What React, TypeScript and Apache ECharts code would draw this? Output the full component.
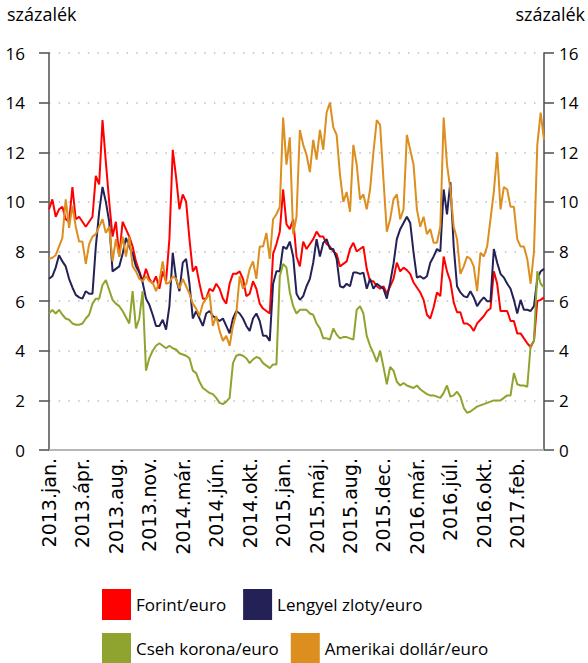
import React, { useEffect, useRef } from "react";
import * as echarts from "echarts";

const tickLabels = [
  "2013.jan.", "2013.ápr.", "2013.aug.", "2013.nov.", "2014.már.", "2014.jún.", "2014.okt.",
  "2015.jan.", "2015.máj.", "2015.aug.", "2015.dec.", "2016.már.", "2016.júl.", "2016.okt.", "2017.feb.",
];
const seriesNames = ["Forint/euro", "Lengyel zloty/euro", "Cseh korona/euro", "Amerikai dollár/euro"];
const seriesColors = ["#ff0000", "#232156", "#8ea42e", "#dc8e1f"];

const forintEuro = [
  9.7, 10.1, 9.4, 9.7, 9.8, 9.3, 9.2, 10.6, 9.3, 9.4, 9.2, 9.0, 9.2, 9.4, 11.05, 10.7, 13.3, 11.6, 10.0, 8.6, 9.2,
  7.8, 9.2, 8.9, 8.6, 8.2, 7.6, 7.2, 6.8, 7.3, 6.9, 6.7, 7.0, 6.5, 7.2, 6.8, 8.5, 12.1, 11.0, 9.7, 10.3,
  10.0, 8.5, 7.2, 7.4, 6.7, 6.1, 6.1, 6.5, 6.4, 6.7, 6.5, 6.1, 5.9, 6.7, 7.1, 7.1, 7.2, 6.9, 6.2, 6.3, 6.8,
  6.5, 5.9, 5.7, 5.6, 5.5, 7.9, 8.3, 8.8, 10.5, 9.1, 8.9, 9.3, 7.8, 7.4, 8.4, 8.1, 8.3, 8.5, 8.8, 8.6, 8.6,
  8.3, 8.2, 8.0, 7.9, 7.4, 7.5, 7.6, 8.1, 8.35, 8.0, 8.1, 8.2, 7.3, 6.8, 6.8, 6.6, 6.5, 6.6, 6.3, 6.6, 6.9,
  7.55, 7.2, 7.35, 7.25, 7.1, 6.75, 6.55, 6.35, 6.05, 5.45, 5.3, 5.75, 6.35, 6.2, 7.8, 7.2, 6.8, 5.95, 5.55, 5.55, 5.1,
  5.1, 5.0, 4.8, 5.1, 5.25, 5.4, 5.6, 5.7, 7.2, 6.7, 5.6, 5.6, 5.6, 5.2, 5.2, 4.7, 4.7, 4.5, 4.3, 4.15, 4.4, 6.0, 6.05, 6.15,
];

const zlotyEuro = [
  6.9, 7.0, 7.35, 7.85, 7.6, 7.4, 6.9, 6.55, 6.25, 6.15, 6.1, 6.4, 6.3, 6.3, 8.2, 9.6, 10.6, 10.0, 9.2, 7.2, 7.3,
  7.4, 7.9, 8.55, 8.2, 7.9, 7.4, 7.15, 6.75, 6.1, 5.85, 5.45, 5.0, 5.0, 5.25, 4.85, 5.8, 7.95, 6.9, 6.4, 7.55,
  7.7, 6.7, 5.3, 5.6, 5.3, 5.0, 5.5, 5.6, 5.4, 5.3, 5.2, 5.3, 5.0, 4.7, 5.3, 5.6, 5.5, 5.3, 5.0, 4.8, 5.3,
  5.5, 5.2, 4.6, 4.6, 4.4, 6.7, 7.2, 7.2, 8.2, 8.1, 8.4, 7.8, 6.3, 6.05, 6.2, 6.6, 6.9, 7.55, 8.5, 7.8, 8.35,
  8.5, 8.1, 8.1, 7.7, 6.6, 6.55, 6.7, 6.6, 7.15, 7.15, 7.1, 7.15, 6.5, 6.9, 6.5, 6.7, 6.6, 6.5, 6.1, 6.75, 7.5,
  8.5, 8.9, 9.15, 9.4, 9.15, 7.95, 6.95, 7.0, 6.9, 7.0, 7.55, 7.8, 8.1, 8.0, 10.5, 9.5, 10.8, 8.2, 6.6, 6.35, 6.2,
  6.15, 6.4, 6.15, 5.8, 6.0, 6.15, 6.0, 6.0, 8.1, 7.55, 7.1, 6.95, 6.7, 6.5, 6.05, 5.5, 6.05, 5.65, 5.65, 5.6, 5.8, 6.9, 7.2, 7.3,
];

const korunaEuro = [
  5.5, 5.65, 5.5, 5.65, 5.45, 5.3, 5.25, 5.1, 5.05, 5.05, 5.1, 5.3, 5.45, 5.9, 6.1, 6.1, 6.65, 6.85, 6.45, 6.05, 5.9,
  5.8, 5.6, 5.35, 5.1, 6.4, 4.9, 5.3, 6.4, 3.2, 3.7, 4.0, 4.2, 4.3, 4.2, 4.1, 4.2, 4.1, 4.05, 3.9, 3.85,
  3.8, 3.7, 3.2, 3.1, 2.75, 2.5, 2.4, 2.3, 2.25, 2.1, 1.9, 1.85, 1.95, 2.1, 3.5, 3.8, 3.85, 3.8, 3.7, 3.5, 3.65,
  3.75, 3.7, 3.5, 3.4, 3.3, 3.45, 3.45, 7.0, 7.5, 7.35, 6.35, 5.8, 5.5, 5.65, 5.65, 5.65, 5.5, 5.45, 5.1, 4.9, 4.5,
  4.5, 4.45, 4.9, 4.65, 4.5, 4.55, 4.55, 4.5, 4.45, 5.65, 5.8, 5.5, 4.6, 4.2, 3.9, 3.55, 4.0, 3.35, 2.65, 3.35, 3.2,
  2.75, 2.6, 2.7, 2.6, 2.55, 2.5, 2.6, 2.45, 2.35, 2.25, 2.2, 2.2, 2.15, 2.1, 2.3, 2.6, 2.15, 2.2, 2.35, 2.15, 1.7,
  1.5, 1.55, 1.65, 1.75, 1.8, 1.85, 1.9, 1.95, 2.0, 2.0, 2.0, 2.1, 2.2, 2.2, 3.1, 2.65, 2.6, 2.6, 2.55, 4.2, 4.4, 7.2, 6.7, 6.55,
];

const dollarEuro = [
  7.7, 7.75, 7.85, 8.2, 8.55, 10.1, 8.95, 9.85, 9.0, 8.4, 8.4, 7.5, 8.3, 8.6, 8.7, 9.0, 9.3, 8.75, 9.0, 7.6, 8.5,
  7.8, 8.6, 7.8, 8.6, 7.4, 7.2, 6.9, 6.8, 7.0, 6.8, 6.75, 6.4, 6.8, 7.6, 6.7, 6.75, 7.0, 6.9, 6.5, 6.9,
  6.6, 6.3, 5.9, 5.7, 5.4, 5.9, 6.1, 6.3, 5.0, 5.4, 4.8, 4.4, 4.6, 4.2, 5.0, 5.5, 7.0, 6.5, 6.7, 7.3, 7.6,
  6.9, 8.2, 8.2, 8.75, 7.7, 9.3, 9.5, 9.8, 13.4, 11.5, 12.6, 8.7, 9.4, 12.9, 12.3, 11.9, 11.2, 12.5, 11.7, 12.9, 12.1,
  13.6, 14.0, 13.0, 12.7, 11.1, 10.0, 10.4, 9.6, 12.3, 11.5, 10.1, 10.3, 9.7, 10.5, 12.0, 13.3, 13.1, 10.9, 8.8, 9.3, 10.1,
  10.3, 9.3, 9.7, 12.7, 12.1, 11.5, 9.7, 9.0, 9.4, 8.7, 8.9, 8.35, 8.35, 9.0, 13.4, 11.5, 10.5, 9.0, 8.5, 7.1, 7.4,
  7.8, 7.7, 7.4, 6.4, 7.95, 7.8, 8.2, 9.3, 10.4, 12.0, 9.7, 10.6, 10.5, 9.8, 9.8, 8.5, 8.2, 8.2, 7.7, 6.7, 8.0, 12.3, 13.6, 12.5,
];

const seriesData = [forintEuro, zlotyEuro, korunaEuro, dollarEuro];
const categories = forintEuro.map((_, i) => (i % 10 === 0 ? tickLabels[i / 10] ?? "" : ""));

const FONT = "'Open Sans', sans-serif";
const AXIS_COLOR = "#595959";

export default function App() {
  const ref = useRef<HTMLDivElement>(null);
  useEffect(() => {
    if (!ref.current) return;
    const chart = echarts.init(ref.current, undefined, { renderer: "svg" });
    const yAxisBase = {
      type: "value",
      min: 0,
      max: 16,
      interval: 2,
      axisLine: { show: true, lineStyle: { color: AXIS_COLOR, width: 1.6 } },
      axisTick: { show: true, length: 10, lineStyle: { color: AXIS_COLOR, width: 1.6 } },
    };
    chart.setOption({
      animation: false,
      backgroundColor: "#ffffff",
      grid: { left: 49, right: 44, top: 53, bottom: 213, containLabel: false },
      xAxis: [
        {
          type: "category",
          data: categories,
          boundaryGap: false,
          axisLine: { lineStyle: { color: AXIS_COLOR, width: 1.6 } },
          axisTick: { show: false },
          axisLabel: {
            interval: 9,
            rotate: 90,
            margin: 8,
            fontFamily: "'DejaVu Sans', sans-serif",
            fontSize: 19,
            color: "#000000",
          },
          splitLine: { show: false },
        },
        {
          type: "category",
          data: categories,
          boundaryGap: false,
          position: "top",
          axisLine: { show: true, lineStyle: { color: "#c8c8c8", width: 1.5 } },
          axisTick: { show: false },
          axisLabel: { show: false },
          splitLine: { show: false },
        },
      ],
      yAxis: [
        {
          ...yAxisBase,
          position: "left",
          axisLabel: { margin: 24, fontFamily: FONT, fontSize: 17, color: "#000000" },
          splitLine: { show: true, lineStyle: { color: "#bdbdbd", width: 1.5, type: [1.5, 8.2] } },
        },
        {
          ...yAxisBase,
          position: "right",
          axisLabel: { margin: 15, fontFamily: FONT, fontSize: 17, color: "#000000" },
          splitLine: { show: false },
        },
      ],
      legend: [
        {
          data: [seriesNames[0], seriesNames[1]],
          left: 102,
          top: 589,
          padding: 0,
          itemWidth: 29,
          itemHeight: 31,
          itemGap: 17,
          icon: "rect",
          selectedMode: false,
          textStyle: { fontFamily: FONT, fontSize: 17, color: "#000000" },
        },
        {
          data: [seriesNames[2], seriesNames[3]],
          left: 102,
          top: 633,
          padding: 0,
          itemWidth: 29,
          itemHeight: 30,
          itemGap: 12,
          icon: "rect",
          selectedMode: false,
          textStyle: { fontFamily: FONT, fontSize: 17, color: "#000000" },
        },
      ],
      graphic: [
        { type: "text", left: 7, top: 5, style: { text: "százalék", font: `18px ${FONT}`, fill: "#000000" } },
        { type: "text", right: 3, top: 5, style: { text: "százalék", font: `18px ${FONT}`, fill: "#000000" } },
      ],
      series: seriesNames.map((name, k) => ({
        name,
        type: "line",
        data: seriesData[k],
        showSymbol: false,
        symbol: "none",
        lineStyle: { width: 2, color: seriesColors[k] },
        itemStyle: { color: seriesColors[k] },
        z: 2 + k,
      })),
    });
    return () => chart.dispose();
  }, []);
  return (
    <div
      ref={ref}
      style={{ position: "fixed", left: 0, top: 0, width: 588, height: 663, background: "#ffffff" }}
    />
  );
}
